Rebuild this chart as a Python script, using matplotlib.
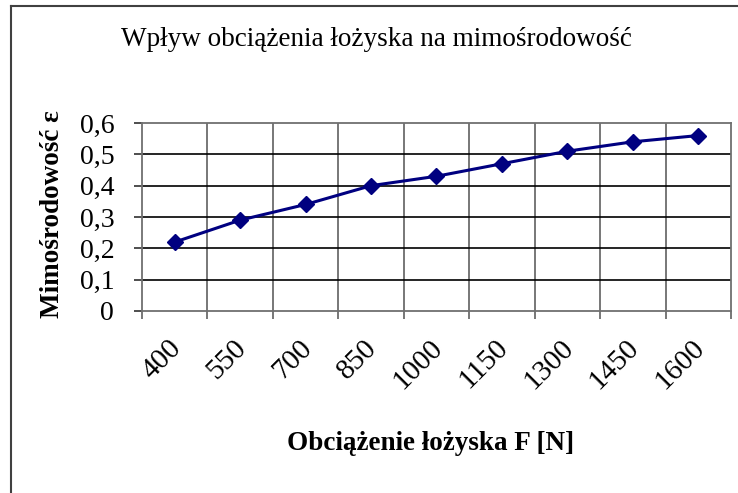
import matplotlib
matplotlib.use("Agg")
import matplotlib.pyplot as plt
from matplotlib.lines import Line2D
import matplotlib.transforms as mtransforms
import numpy as np

categories = ["400", "550", "700", "850", "1000", "1150", "1300", "1450", "1600"]
values = [0.22, 0.29, 0.34, 0.40, 0.43, 0.47, 0.51, 0.54, 0.56]
yticks = [0, 0.1, 0.2, 0.3, 0.4, 0.5, 0.6]
ytick_labels = ["0", "0,1", "0,2", "0,3", "0,4", "0,5", "0,6"]
title = "Wpływ obciążenia łożyska na mimośrodowość"
xlabel = "Obciążenie łożyska F [N]"
ylabel = "Mimośrodowość ε"

plt.rcParams['font.family'] = ['Liberation Serif', 'DejaVu Serif']

W, H = 738, 493
fig = plt.figure(figsize=(W / 100, H / 100), dpi=100)
L, R, T, B = 142, 731, 123, 311
ax = fig.add_axes([L / W, 1 - B / H, (R - L) / W, (B - T) / H])

n = len(categories)
x = np.arange(n) + 0.5
ax.plot(x, values, color="#000080", lw=2.2, marker="D", markersize=8, zorder=3, clip_on=False)
ax.set_xlim(0, n)
ax.set_ylim(0, 0.6)

ax.set_xticks(np.arange(n + 1))
ax.set_xticklabels([])
ax.set_xticks(x, minor=True)
ax.set_xticklabels(categories, minor=True, rotation=45, ha="right", va="top",
                   rotation_mode="anchor", fontsize=21)
ax.tick_params(axis="x", which="minor", length=0, pad=17)
ax.tick_params(axis="x", which="major", length=6, width=1.2, color="#606060", direction="out")
offset = mtransforms.ScaledTranslation(-7 / 100, 0, fig.dpi_scale_trans)
for lab in ax.get_xticklabels(minor=True):
    lab.set_transform(lab.get_transform() + offset)

ax.set_yticks(yticks)
ax.set_yticklabels(ytick_labels, fontsize=20)
ax.tick_params(axis="y", length=6, width=1.2, color="#303030", pad=14)

for v in np.arange(1, n):
    ax.axvline(v, color="#606060", lw=1.2, zorder=1)
for yv in yticks[1:-1]:
    ax.axhline(yv, color="black", lw=1.2, zorder=1)
for s in ax.spines.values():
    s.set_color("#707070")
    s.set_linewidth(1.3)

fig.text(376 / W, 1 - 40 / H, title, ha="center", va="center", fontsize=19.5)
fig.text(431 / W, 1 - 443 / H, xlabel, ha="center", va="center", fontsize=19.5, fontweight="bold")
fig.text(53 / W, 1 - 214 / H, ylabel, ha="center", va="center", fontsize=19.5,
         fontweight="bold", rotation=90)

fig.add_artist(Line2D([11 / W, 11 / W], [0, 1 - 6 / H], color="#404040", lw=1.5,
                      transform=fig.transFigure))
fig.add_artist(Line2D([11 / W, 1], [1 - 6 / H, 1 - 6 / H], color="#404040", lw=1.5,
                      transform=fig.transFigure))

fig.savefig("out.png", dpi=100)
